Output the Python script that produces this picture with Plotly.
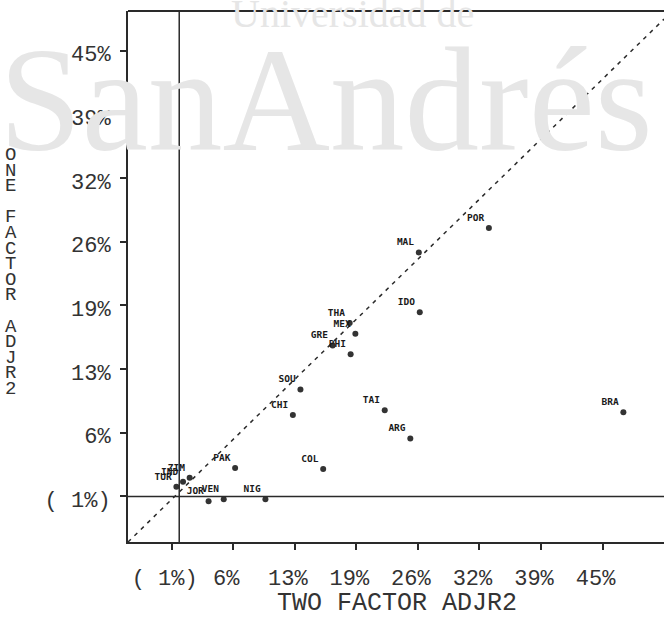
import plotly.graph_objects as go

# ---- data ----
countries = ["POR", "MAL", "IDO", "THA", "MEX", "GRE", "PHI", "SOU", "CHI", "TAI",
             "ARG", "COL", "BRA", "PAK", "NIG", "JOR", "VEN", "TUR", "IND", "ZIM"]
two_factor = [33.0, 25.6, 25.7, 18.3, 18.9, 16.5, 18.4, 13.1, 12.3, 22.0,
              24.7, 15.5, 47.2, 6.2, 9.4, 3.4, 5.0, 0.0, 0.7, 1.4]
one_factor = [26.9, 24.4, 18.3, 17.2, 16.1, 14.9, 14.0, 10.4, 7.8, 8.3,
              5.4, 2.3, 8.1, 2.4, -0.8, -1.0, -0.8, 0.5, 1.0, 1.4]

tick_vals = [-0.5, 6, 12.5, 19, 25.5, 32, 38.5, 45]
tick_text = ["( 1%)", "6%", "13%", "19%", "26%", "32%", "39%", "45%"]

x_title = "TWO FACTOR ADJR2"
y_title = "ONE FACTOR ADJR2"

# ---- layout constants ----
W, H = 664, 627
L, R, T, B = 128, 0, 11, 85
x_range = [-5.11, 51.49]
y_range = [-5.15, 49.03]
ref_x = 0.3      # vertical reference line
ref_y = -0.5     # horizontal reference line
diag_end_y = 48.2

ink = "#2a2a2a"
mono = "Liberation Mono"


def px_x(px):
    return (px - L) / (W - L - R)


def px_y(py):
    return (H - B - py) / (H - T - B)


fig = go.Figure()

fig.add_trace(go.Scatter(
    x=two_factor, y=one_factor, mode="markers+text",
    text=countries, textposition="top left",
    textfont=dict(family="DejaVu Sans Mono", size=9.5, color="#1a1a1a", weight="bold"),
    marker=dict(size=6, color="#333333"),
    cliponaxis=False, showlegend=False, hoverinfo="skip",
))

shapes = [
    dict(type="line", xref="x", yref="y", x0=x_range[0], y0=y_range[0],
         x1=x_range[1], y1=diag_end_y, line=dict(color=ink, width=1.5, dash="4px,5px"),
         layer="below"),
    dict(type="line", xref="x", yref="paper", x0=ref_x, x1=ref_x, y0=0, y1=1,
         line=dict(color=ink, width=1.5)),
    dict(type="line", xref="paper", yref="y", x0=0, x1=1, y0=ref_y, y1=ref_y,
         line=dict(color=ink, width=1.5)),
    dict(type="line", xref="paper", yref="paper", x0=0, x1=1, y0=1, y1=1,
         line=dict(color=ink, width=2)),
]

stacked = "<br>".join(
    "<span style='font-size:19px'>%s</span>" % c if c != " " else " " for c in y_title)

annotations = [
    # watermark of the scanned source
    dict(text="Universidad de", xref="paper", yref="paper", x=px_x(352), y=px_y(14),
         showarrow=False, xanchor="center", yanchor="middle",
         font=dict(family="Liberation Serif", size=40, color="#e6e6e6")),
    dict(text="SanAndrés", xref="paper", yref="paper", x=px_x(326), y=px_y(100),
         showarrow=False, xanchor="center", yanchor="middle",
         font=dict(family="Liberation Serif", size=149, color="#e6e6e6")),
    # x title
    dict(text=x_title, xref="paper", yref="paper", x=px_x(397), y=px_y(603),
         showarrow=False, xanchor="center", yanchor="middle",
         font=dict(family=mono, size=25, color="#333333")),
    # stacked y title
    dict(text=stacked, xref="paper", yref="paper", x=px_x(11), y=px_y(272),
         showarrow=False, xanchor="center", yanchor="middle",
         font=dict(family=mono, size=12, color="#333333")),
]

fig.update_layout(
    width=W, height=H,
    margin=dict(l=L, r=R, t=T, b=B, pad=0),
    paper_bgcolor="white", plot_bgcolor="rgba(0,0,0,0)",
    shapes=shapes, annotations=annotations, hovermode=False,
    xaxis=dict(range=x_range, tickvals=tick_vals, ticktext=tick_text,
               showgrid=False, zeroline=False, showline=True, linecolor=ink, linewidth=2,
               ticks="outside", ticklen=6, tickwidth=1.5, tickcolor=ink,
               ticklabelstandoff=9, ticklabelshift=-7,
               tickfont=dict(family=mono, size=22, color="#333333")),
    yaxis=dict(range=y_range, tickvals=tick_vals, ticktext=tick_text,
               showgrid=False, zeroline=False, showline=True, linecolor=ink, linewidth=2,
               ticks="outside", ticklen=6, tickwidth=1.5, tickcolor=ink,
               ticklabelstandoff=5, ticklabelshift=3,
               tickfont=dict(family=mono, size=22, color="#333333")),
)

fig.write_html("out.html",
               config={"displayModeBar": False},
               post_script="document.body.style.margin='0px';"
                           "document.body.style.overflow='hidden';")
